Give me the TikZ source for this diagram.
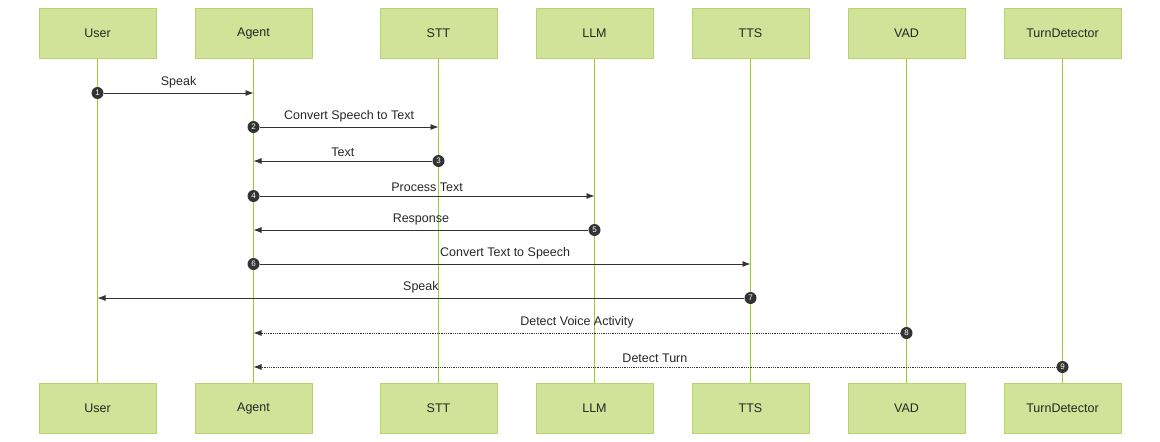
\documentclass[tikz,border=0pt]{standalone}
\usepackage{fontspec}
\setmainfont{Liberation Sans}
\usetikzlibrary{arrows.meta}
\definecolor{boxfill}{HTML}{D0E399}
\definecolor{boxline}{HTML}{B6D56E}
\definecolor{lifeline}{HTML}{9ACD32}
\definecolor{msgline}{HTML}{333333}
\begin{document}
\begin{tikzpicture}[x=1pt,y=-1pt,
    actor/.style={rectangle,draw=boxline,fill=boxfill,minimum width=117pt,minimum height=50pt,
        inner sep=0pt,font=\fontsize{12.5}{14}\selectfont,text=black!85},
    life/.style={draw=lifeline,line width=1.2pt},
    msg/.style={draw=msgline,line width=0.8pt,-{Latex[length=8pt,width=6pt]}},
    ret/.style={msg,densely dotted},
    badge/.style={circle,fill=msgline,text=white,inner sep=0pt,minimum size=12pt,
        font=\fontsize{8}{8}\selectfont},
    lbl/.style={font=\fontsize{12.5}{14}\selectfont,text=black!85,above=1pt}]
  \useasboundingbox (0,0) rectangle (1160,442);
  % participants
  \foreach \name/\txt/\x in {u/User/97.5,a/Agent/253.5,s/STT/438.5,l/LLM/594.5,
      t/TTS/750.5,v/VAD/906.5,d/TurnDetector/1062.5} {
    \draw[life] (\x,58) -- (\x,383);
    \node[actor] (t\name) at (\x,33) {\txt};
    \node[actor] (b\name) at (\x,408) {\txt};
  }
  % messages
  \node[badge] (n1) at (tu.south |- 0,93) {1};
  \coordinate (e1) at (ta.south |- 0,93);
  \draw[msg] (n1) -- node[lbl] {Speak} (e1);
  \node[badge] (n2) at (ta.south |- 0,127) {2};
  \coordinate (e2) at (ts.south |- 0,127);
  \draw[msg] (n2) -- node[lbl] {Convert Speech to Text} (e2);
  \node[badge] (n3) at (ts.south |- 0,161) {3};
  \coordinate (e3) at (ta.south |- 0,161);
  \draw[msg] (n3) -- node[lbl] {Text} (e3);
  \node[badge] (n4) at (ta.south |- 0,196) {4};
  \coordinate (e4) at (tl.south |- 0,196);
  \draw[msg] (n4) -- node[lbl] {Process Text} (e4);
  \node[badge] (n5) at (tl.south |- 0,230) {5};
  \coordinate (e5) at (ta.south |- 0,230);
  \draw[msg] (n5) -- node[lbl] {Response} (e5);
  \node[badge] (n6) at (ta.south |- 0,264) {6};
  \coordinate (e6) at (tt.south |- 0,264);
  \draw[msg] (n6) -- node[lbl] {Convert Text to Speech} (e6);
  \node[badge] (n7) at (tt.south |- 0,298) {7};
  \coordinate (e7) at (tu.south |- 0,298);
  \draw[msg] (n7) -- node[lbl] {Speak} (e7);
  \node[badge] (n8) at (tv.south |- 0,333) {8};
  \coordinate (e8) at (ta.south |- 0,333);
  \draw[ret] (n8) -- node[lbl] {Detect Voice Activity} (e8);
  \node[badge] (n9) at (td.south |- 0,367) {9};
  \coordinate (e9) at (ta.south |- 0,367);
  \draw[ret] (n9) -- node[lbl] {Detect Turn} (e9);
\end{tikzpicture}
\end{document}
